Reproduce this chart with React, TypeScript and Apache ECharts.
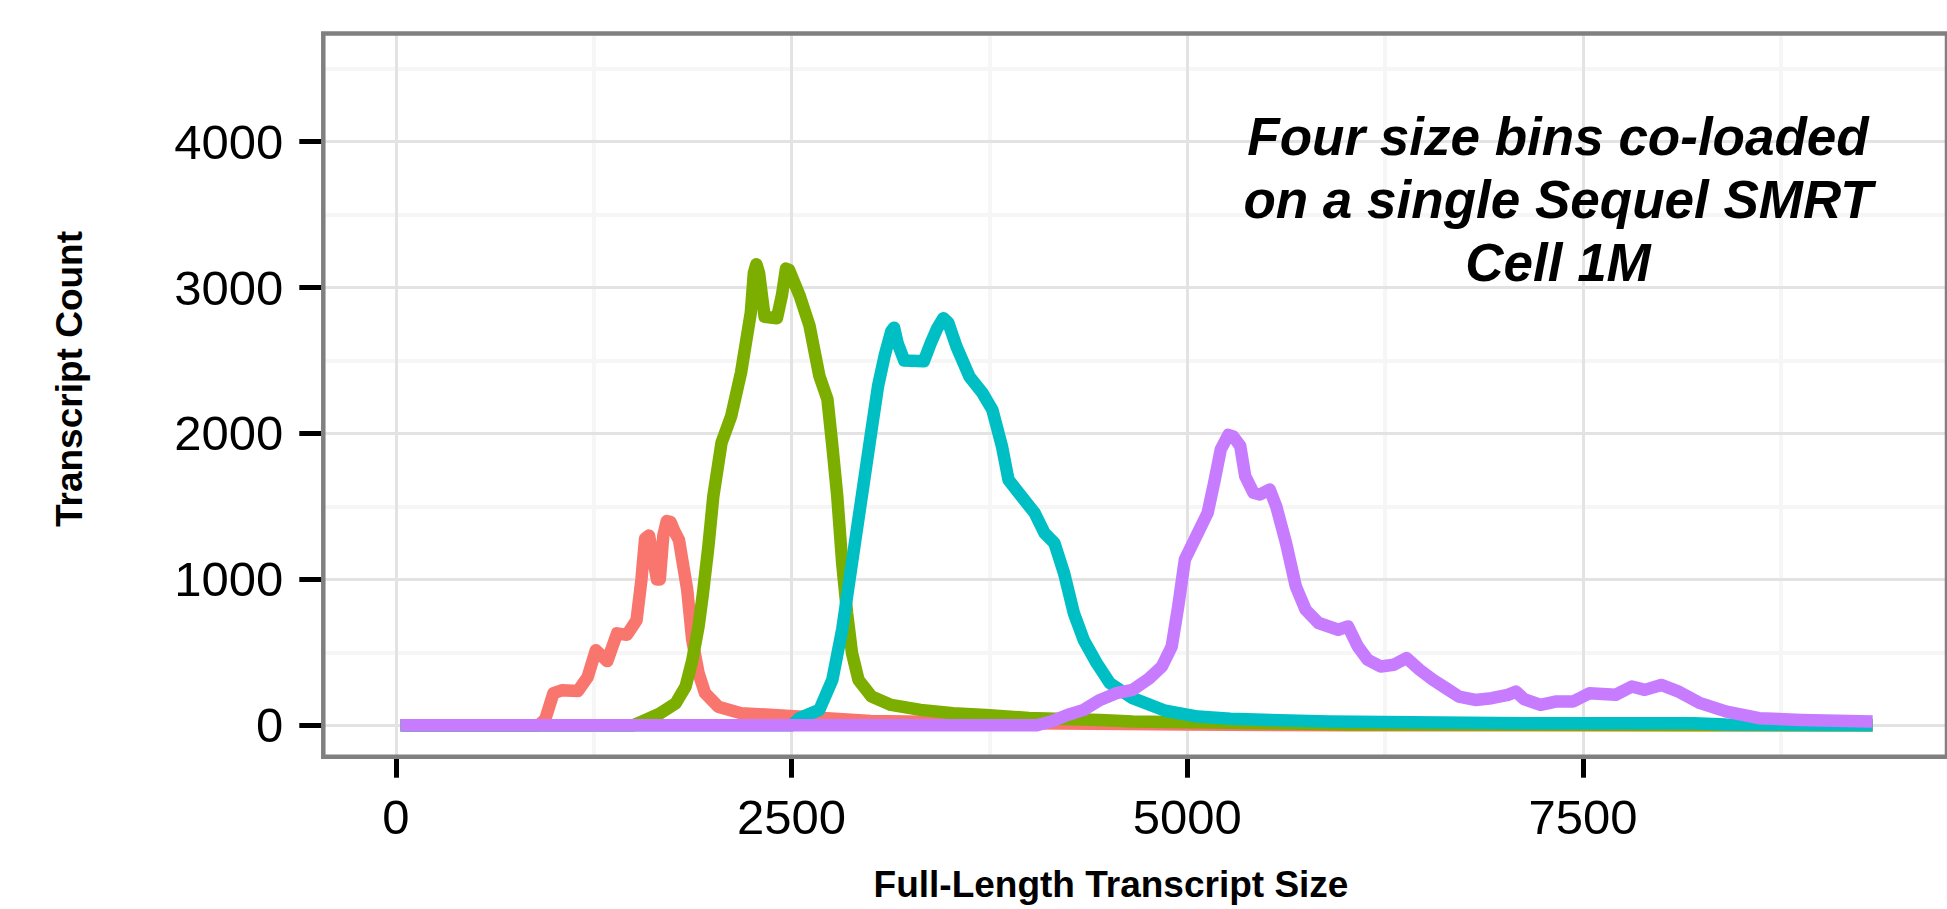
import React, { useEffect, useRef } from "react";
import * as echarts from "echarts";

const seriesNames = ["Bin 1", "Bin 2", "Bin 3", "Bin 4"];
const seriesColors = ["#F8766D", "#7CAE00", "#00BFC4", "#C77CFF"];

const redPts: [number, number][] = [
  [30, 0], [900, 0], [944, 40], [996, 220], [1048, 240], [1150, 235], [1212, 330], [1264, 515],
  [1336, 440], [1398, 630], [1460, 620], [1521, 720], [1552, 1000], [1575, 1280], [1600, 1300],
  [1625, 1150], [1650, 1000], [1668, 1000], [1690, 1300], [1712, 1400], [1735, 1395], [1760, 1330],
  [1789, 1270], [1841, 930], [1872, 590], [1913, 357], [1954, 220], [2037, 128], [2181, 83],
  [2387, 71], [2700, 50], [3000, 30], [4000, 15], [5000, 5], [6000, 0], [9330, 0],
];

const greenPts: [number, number][] = [
  [30, 0], [1500, 0], [1563, 30], [1666, 80], [1769, 152], [1831, 266], [1872, 440], [1913, 678],
  [1940, 900], [1975, 1227], [2006, 1570], [2058, 1937], [2119, 2119], [2181, 2417], [2243, 2829],
  [2262, 3100], [2278, 3160], [2295, 3100], [2330, 2800], [2408, 2790], [2440, 2950], [2465, 3130],
  [2485, 3120], [2552, 2943], [2614, 2737], [2676, 2394], [2727, 2234], [2758, 1914], [2789, 1570],
  [2820, 1113], [2851, 770], [2882, 495], [2923, 312], [3006, 197], [3129, 140], [3315, 106],
  [3521, 83], [3727, 71], [4000, 50], [4449, 37], [4655, 26], [5480, 15], [6000, 5], [9330, 0],
];

const cyanPts: [number, number][] = [
  [30, 0], [2500, 0], [2552, 50], [2676, 106], [2758, 312], [2820, 655], [2882, 1113], [2944, 1570],
  [3006, 2028], [3047, 2326], [3088, 2531], [3130, 2700], [3148, 2725], [3170, 2620], [3212, 2500],
  [3336, 2495], [3380, 2620], [3420, 2720], [3459, 2790], [3490, 2760], [3542, 2596], [3624, 2390],
  [3707, 2276], [3769, 2162], [3830, 1910], [3871, 1682], [3954, 1567], [4037, 1454], [4099, 1317],
  [4161, 1248], [4222, 1042], [4284, 768], [4346, 585], [4428, 426], [4511, 289], [4655, 186],
  [4861, 100], [5067, 60], [5273, 45], [5891, 26], [7128, 15], [8200, 14], [8400, 5], [9330, 0],
];

const purplePts: [number, number][] = [
  [30, 0], [4050, 0], [4140, 26], [4243, 71], [4346, 106], [4449, 174], [4552, 220], [4655, 243],
  [4758, 320], [4840, 403], [4902, 540], [4943, 815], [4985, 1136], [5047, 1273], [5129, 1456],
  [5170, 1662], [5212, 1891], [5260, 1990], [5290, 1980], [5335, 1914], [5366, 1708], [5418, 1594],
  [5459, 1582], [5521, 1616], [5562, 1502], [5624, 1250], [5686, 952], [5748, 792], [5830, 701],
  [5954, 655], [6016, 678], [6078, 540], [6140, 449], [6222, 403], [6305, 415], [6386, 461],
  [6469, 380], [6552, 312], [6634, 255], [6716, 197], [6820, 174], [6923, 186], [7026, 209],
  [7077, 231], [7128, 180], [7232, 140], [7327, 163], [7438, 163], [7541, 220], [7706, 209],
  [7809, 266], [7891, 243], [7994, 277], [8097, 235], [8241, 152], [8407, 94], [8613, 49],
  [8881, 37], [9330, 26],
];

const xTickValues = [0, 2500, 5000, 7500];
const xMinorValues = [1250, 3750, 6250, 8750];
const yTickValues = [0, 1000, 2000, 3000, 4000];
const yMinorValues = [500, 1500, 2500, 3500, 4500];

const xTitle = "Full-Length Transcript Size";
const yTitle = "Transcript Count";
const noteLines = ["Four size bins co-loaded", "on a single Sequel SMRT", "Cell 1M"];

export default function App() {
  const ref = useRef<HTMLDivElement>(null);

  useEffect(() => {
    if (!ref.current) return;
    const chart = echarts.init(ref.current, null, { renderer: "svg" });
    const font = "'Liberation Sans', Arial, Helvetica, sans-serif";
    const majorStyle = { color: "#e3e3e3", width: 3, type: "solid" as const };
    const minorStyle = { color: "#f6f6f6", width: 4, type: "solid" as const };
    const gridLines = [
      ...xMinorValues.map((v) => ({ xAxis: v, lineStyle: minorStyle })),
      ...yMinorValues.map((v) => ({ yAxis: v, lineStyle: minorStyle })),
      ...xTickValues.map((v) => ({ xAxis: v, lineStyle: majorStyle })),
      ...yTickValues.map((v) => ({ yAxis: v, lineStyle: majorStyle })),
    ];
    const allPts = [redPts, greenPts, cyanPts, purplePts];

    chart.setOption({
      animation: false,
      backgroundColor: "#ffffff",
      grid: {
        left: 323.3,
        top: 33.5,
        bottom: 152.3,
        right: -34.3,
        show: true,
        borderColor: "#808080",
        borderWidth: 4.5,
        backgroundColor: "transparent",
        z: 10,
      },
      xAxis: {
        type: "value",
        min: -458,
        max: 9800,
        axisLine: { show: false, onZero: false },
        splitLine: { show: false },
        axisTick: {
          show: true,
          customValues: xTickValues,
          length: 21,
          lineStyle: { color: "#000", width: 5 },
        },
        axisLabel: {
          customValues: xTickValues,
          formatter: (v: number) => String(v),
          fontSize: 49,
          fontFamily: font,
          color: "#000",
          margin: 36,
        },
      },
      yAxis: {
        type: "value",
        min: -215,
        max: 4741,
        axisLine: { show: false, onZero: false },
        splitLine: { show: false },
        axisTick: {
          show: true,
          customValues: yTickValues,
          length: 24,
          lineStyle: { color: "#000", width: 5 },
        },
        axisLabel: {
          customValues: yTickValues,
          formatter: (v: number) => String(v),
          fontSize: 49,
          fontFamily: font,
          color: "#000",
          margin: 40,
        },
      },
      series: allPts.map((pts, i) => ({
        name: seriesNames[i],
        type: "line",
        data: pts,
        showSymbol: false,
        symbol: "none",
        silent: true,
        z: 2,
        lineStyle: { color: seriesColors[i], width: 12.5, cap: "butt", join: "round" },
        ...(i === 0
          ? {
              markLine: {
                silent: true,
                symbol: ["none", "none"],
                label: { show: false },
                emphasis: { disabled: true },
                animation: false,
                z: 1,
                data: gridLines,
              },
            }
          : {}),
      })),
      graphic: [
        {
          type: "text",
          x: 1558,
          y: 105,
          z: 20,
          style: {
            text: noteLines.join("\n"),
            fontFamily: font,
            fontSize: 53,
            fontWeight: "bold",
            fontStyle: "italic",
            fill: "#000",
            align: "center",
            verticalAlign: "top",
            lineHeight: 63,
          },
        },
        {
          type: "text",
          x: 69,
          y: 379,
          rotation: Math.PI / 2,
          z: 20,
          style: {
            text: yTitle,
            fontFamily: font,
            fontSize: 37,
            fontWeight: "bold",
            fill: "#000",
            align: "center",
            verticalAlign: "middle",
          },
        },
        {
          type: "text",
          x: 1111,
          y: 884,
          z: 20,
          style: {
            text: xTitle,
            fontFamily: font,
            fontSize: 37,
            fontWeight: "bold",
            fill: "#000",
            align: "center",
            verticalAlign: "middle",
          },
        },
      ],
    });

    return () => chart.dispose();
  }, []);

  return (
    <div
      ref={ref}
      style={{ position: "fixed", left: 0, top: 0, width: 1947, height: 909, background: "#fff" }}
    />
  );
}
